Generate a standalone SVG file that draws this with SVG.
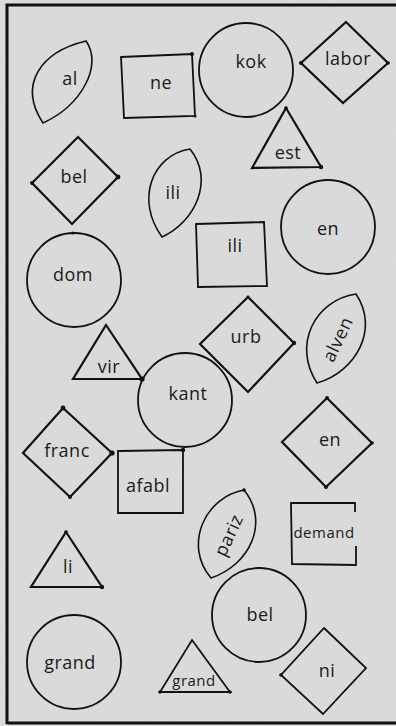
<svg xmlns="http://www.w3.org/2000/svg" width="396" height="726" viewBox="0 0 396 726">
<style>
.s{fill:none;stroke:#111;stroke-width:1.8;stroke-linejoin:miter}
.d{fill:none;stroke:#111;stroke-width:2.2;stroke-linejoin:miter}
.l{fill:none;stroke:#111;stroke-width:1.6}
.t{font-family:"Open Sans","Noto Sans","DejaVu Sans",sans-serif;font-size:18px;fill:#1a1a1a;text-anchor:middle;letter-spacing:0.5px}
.sm{font-size:15px}
.dot{fill:#111}
.fr{stroke:#111;stroke-width:3;fill:none}
</style>
<defs>
<filter id="grain" x="0" y="0" width="100%" height="100%">
<feTurbulence type="fractalNoise" baseFrequency="0.9" numOctaves="2" seed="3"/>
<feColorMatrix type="matrix" values="0 0 0 0 0.5  0 0 0 0 0.5  0 0 0 0 0.5  0 0 0 0.35 0"/>
</filter>
</defs>
<rect width="396" height="726" fill="#dddddd"/>
<rect width="396" height="726" filter="url(#grain)" opacity="0.5"/>
<g id="frame">
<path class="fr" d="M7,724 L7,5 L396,5"/>
<path class="fr" d="M7,723 L396,723"/>
</g>

<g id="al"><path class="l" d="M86,41 C40,52 18,85 43,123 C82,105 103,65 86,41 Z"/><text class="t" x="70" y="85">al</text></g>
<g id="ne"><polygon class="s" points="121,57 192,54 195,116 124,118"/><circle class="dot" cx="192" cy="54" r="2"/><circle class="dot" cx="195" cy="116" r="1.6"/><text class="t" x="161" y="89">ne</text></g>
<g id="kok"><circle class="s" cx="246" cy="70" r="47"/><text class="t" x="251" y="68">kok</text></g>
<g id="labor"><polygon class="d" points="346,22 388,63 343,103 301,63"/><circle class="dot" cx="301" cy="63" r="2"/><circle class="dot" cx="388" cy="63" r="1.8"/><text class="t" x="348" y="65">labor</text></g>
<g id="est"><polygon class="d" points="286,108 321,167 252,168"/><circle class="dot" cx="321" cy="167" r="2.2"/><circle class="dot" cx="286" cy="108" r="1.8"/><text class="t" x="288" y="159">est</text></g>

<g id="bel1"><polygon class="d" points="78,137 118,177 72,224 32,183"/><circle class="dot" cx="118" cy="177" r="2.4"/><circle class="dot" cx="32" cy="183" r="2"/><text class="t" x="74" y="183">bel</text></g>
<g id="ili1"><path class="l" d="M190,149 C152,155 135,200 162,237 C195,222 215,180 190,149 Z"/><text class="t" x="173" y="199">ili</text></g>
<g id="ili2"><polygon class="s" points="196,224 264,222 267,286 198,287"/><text class="t" x="235" y="252">ili</text></g>
<g id="en1"><circle class="s" cx="328" cy="227" r="47"/><text class="t" x="328" y="235">en</text></g>
<g id="dom"><circle class="s" cx="74" cy="280" r="47"/><circle class="dot" cx="73" cy="233" r="1.6"/><text class="t" x="73" y="281">dom</text></g>

<g id="vir"><polygon class="d" points="106,325 142,379 73,379"/><circle class="dot" cx="142" cy="379" r="2.6"/><text class="t" x="109" y="373">vir</text></g>
<g id="kant"><circle class="s" cx="185" cy="400" r="47"/><text class="t" x="188" y="400">kant</text></g>
<g id="urb"><polygon class="d" points="248,297 294,343 248,392 200,344"/><circle class="dot" cx="294" cy="343" r="2.2"/><circle class="dot" cx="248" cy="297" r="1.6"/><text class="t" x="246" y="343">urb</text></g>
<g id="alven"><path class="l" d="M356,294 C315,300 292,345 317,383 C355,372 380,330 356,294 Z"/><text class="t" transform="translate(337,339) rotate(-65)" dominant-baseline="central">alven</text></g>

<g id="franc"><polygon class="d" points="63,408 112,453 70,497 23,453"/><circle class="dot" cx="63" cy="408" r="2.4"/><circle class="dot" cx="112" cy="453" r="2.6"/><circle class="dot" cx="70" cy="497" r="2"/><text class="t" x="67" y="457">franc</text></g>
<g id="afabl"><polygon class="s" points="118,451 183,450 183,513 118,513"/><circle class="dot" cx="183" cy="450" r="2.2"/><text class="t" x="148" y="492">afabl</text></g>
<g id="en2"><polygon class="d" points="327,398 372,443 326,487 282,442"/><circle class="dot" cx="327" cy="398" r="2"/><circle class="dot" cx="326" cy="487" r="2"/><circle class="dot" cx="372" cy="443" r="1.8"/><text class="t" x="330" y="446">en</text></g>
<g id="pariz"><path class="l" d="M244,490 C205,497 183,545 211,578 C250,565 270,522 244,490 Z"/><circle class="dot" cx="244" cy="490" r="1.8"/><text class="t" transform="translate(228,535) rotate(-65)" dominant-baseline="central">pariz</text></g>
<g id="demand"><path class="s" d="M355,512 L355,503 L291,503 L292,564 L356,565 L356,546"/><text class="t sm" x="324" y="538">demand</text></g>

<g id="li"><polygon class="d" points="66,532 102,587 31,587"/><circle class="dot" cx="66" cy="532" r="1.8"/><circle class="dot" cx="102" cy="587" r="2.2"/><text class="t" x="68" y="573">li</text></g>
<g id="bel2"><circle class="s" cx="259" cy="615" r="47"/><text class="t" x="260" y="621">bel</text></g>
<g id="grand1"><circle class="s" cx="74" cy="662" r="47"/><text class="t" x="70" y="669">grand</text></g>
<g id="grand2"><polygon class="s" points="192,640 230,692 160,692"/><circle class="dot" cx="160" cy="692" r="1.8"/><circle class="dot" cx="230" cy="692" r="1.8"/><text class="t sm" x="194" y="686">grand</text></g>
<g id="ni"><polygon class="s" points="324,628 366,668 323,714 281,675"/><circle class="dot" cx="281" cy="675" r="1.8"/><text class="t" x="327" y="677">ni</text></g>
</svg>
